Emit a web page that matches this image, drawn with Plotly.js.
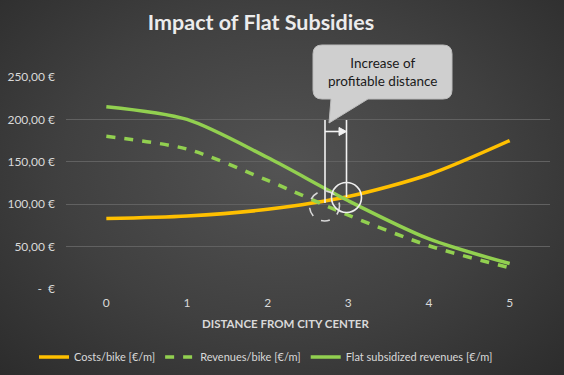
<!DOCTYPE html>
<html>
<head>
<meta charset="utf-8">
<script src="https://cdn.plot.ly/plotly-3.0.1.min.js"></script>
<style>
  html, body { margin: 0; padding: 0; background: #2b2b2b; }
  #chart {
    width: 564px; height: 375px;
    background: radial-gradient(ellipse at 50% 45%, #535353 0%, #404040 55%, #2c2c2c 100%);
  }
</style>
</head>
<body>
<div id="chart"></div>
<script>
// ---- Data ----
const distance = [0, 1, 2, 3, 4, 5];
const costs = [83, 86, 94, 109, 135, 175];
const revenues = [180, 165, 128, 87, 51, 25];
const flatRevenues = [215, 200, 155, 104, 59, 30];
const seriesNames = ['Costs/bike [€/m]', 'Revenues/bike [€/m]', 'Flat subsidized revenues [€/m]'];
const yTickVals = [0, 50, 100, 150, 200, 250];
const yTickText = ['-\u00a0\u00a0€', '50,00 €', '100,00 €', '150,00 €', '200,00 €', '250,00 €'];
const xTickText = ['0', '1', '2', '3', '4', '5'];

// ---- Layout geometry ----
const W = 564, H = 375;
const M = {l: 66, r: 14, t: 77, b: 86, autoexpand: false};
const PW = W - M.l - M.r, PH = H - M.t - M.b;
const px = x => (x - M.l) / PW;           // pixel -> paper x
const py = y => (H - M.b - y) / PH;       // pixel -> paper y

const txt = '#d9d9d9';
const font = 'Lato, Calibri, "Liberation Sans", sans-serif';

const traces = [
  {x: distance, y: costs, name: seriesNames[0], type: 'scatter', mode: 'lines',
   line: {color: '#FFC000', width: 3.5, shape: 'spline', smoothing: 0.8}},
  {x: distance, y: revenues, name: seriesNames[1], type: 'scatter', mode: 'lines',
   line: {color: '#92D050', width: 3.5, shape: 'spline', smoothing: 0.8, dash: '9px,9px'}},
  {x: distance, y: flatRevenues, name: seriesNames[2], type: 'scatter', mode: 'lines',
   line: {color: '#92D050', width: 3.5, shape: 'spline', smoothing: 0.8}}
];

// ---- Callout (rounded box with tail) ----
function calloutPath(l, r, t, b, rad, tailL, tailR, tipX, tipY) {
  const P = (x, y) => px(x) + ',' + py(y);
  return 'M' + P(l + rad, t) +
    ' L' + P(r - rad, t) + ' Q' + P(r, t) + ' ' + P(r, t + rad) +
    ' L' + P(r, b - rad) + ' Q' + P(r, b) + ' ' + P(r - rad, b) +
    ' L' + P(tailR, b) + ' L' + P(tipX, tipY) + ' L' + P(tailL, b) +
    ' L' + P(l + rad, b) + ' Q' + P(l, b) + ' ' + P(l, b - rad) +
    ' L' + P(l, t + rad) + ' Q' + P(l, t) + ' ' + P(l + rad, t) + ' Z';
}
function circ(cx, cy, rr, dash, color) {
  return {type: 'circle', xref: 'paper', yref: 'paper',
    x0: px(cx - rr), x1: px(cx + rr), y0: py(cy + rr), y1: py(cy - rr),
    line: {color: color, width: 1.6, dash: dash}};
}
function seg(x0, y0, x1, y1) {
  return {type: 'line', xref: 'paper', yref: 'paper',
    x0: px(x0), y0: py(y0), x1: px(x1), y1: py(y1),
    line: {color: '#f2f2f2', width: 1.6}};
}

const shapes = [
  {type: 'path', xref: 'paper', yref: 'paper',
   path: calloutPath(313, 452, 45, 99, 9, 331, 368, 329, 123),
   fillcolor: '#cfcfcf', line: {color: '#bdbdbd', width: 1}},
  seg(325, 120, 325, 203),
  seg(346.5, 120, 346.5, 197),
  seg(325, 131.5, 340, 131.5),
  {type: 'path', xref: 'paper', yref: 'paper',
   path: 'M' + px(339) + ',' + py(127.5) + ' L' + px(346.5) + ',' + py(131.5) +
         ' L' + px(339) + ',' + py(135.5) + ' Z',
   fillcolor: '#f2f2f2', line: {color: '#f2f2f2', width: 1}},
  circ(324.5, 206, 15, 'dash', '#d8d8d8'),
  circ(346.5, 197.5, 15, 'solid', '#eeeeee')
];

const annotations = [
  {xref: 'paper', yref: 'paper', x: px(382.5), y: py(71.5), xanchor: 'center', yanchor: 'middle',
   showarrow: false, text: 'Increase of<br>profitable distance', align: 'center',
   font: {family: font, size: 13.5, color: '#1a1a1a'}},
  {xref: 'paper', yref: 'paper', x: px(285.5), y: py(323), xanchor: 'center', yanchor: 'middle',
   showarrow: false, text: '<b>DISTANCE FROM CITY CENTER</b>',
   font: {family: font, size: 11.5, color: txt}}
];

const layout = {
  width: W, height: H,
  margin: M,
  paper_bgcolor: 'rgba(0,0,0,0)',
  plot_bgcolor: 'rgba(0,0,0,0)',
  title: {text: '<b>Impact of Flat Subsidies</b>', x: 261 / W, xanchor: 'center',
          y: 1 - 22 / H, yanchor: 'middle',
          font: {family: font, size: 21.5, color: '#ececec'}},
  xaxis: {type: 'linear', range: [-0.5, 5.5], tickvals: distance, ticktext: xTickText,
          showgrid: false, zeroline: false, showline: false, ticks: '', ticklabelstandoff: 5,
          tickfont: {family: font, size: 12, color: txt}, fixedrange: true},
  yaxis: {range: [0, 250], tickvals: yTickVals, ticktext: yTickText,
          showgrid: true, gridcolor: '#616161', gridwidth: 1, zeroline: false,
          showline: false, ticks: '', ticklabelstandoff: 10,
          tickfont: {family: font, size: 12, color: txt}, fixedrange: true},
  showlegend: true,
  legend: {orientation: 'h', xref: 'container', yref: 'container',
           x: 266 / W, xanchor: 'center', y: 1 - 357 / H, yanchor: 'middle',
           font: {family: font, size: 11, color: txt}, bgcolor: 'rgba(0,0,0,0)',
           itemwidth: 30, tracegroupgap: 0},
  shapes: shapes,
  annotations: annotations
};

Plotly.newPlot('chart', traces, layout, {displayModeBar: false, staticPlot: true});
</script>
</body>
</html>
